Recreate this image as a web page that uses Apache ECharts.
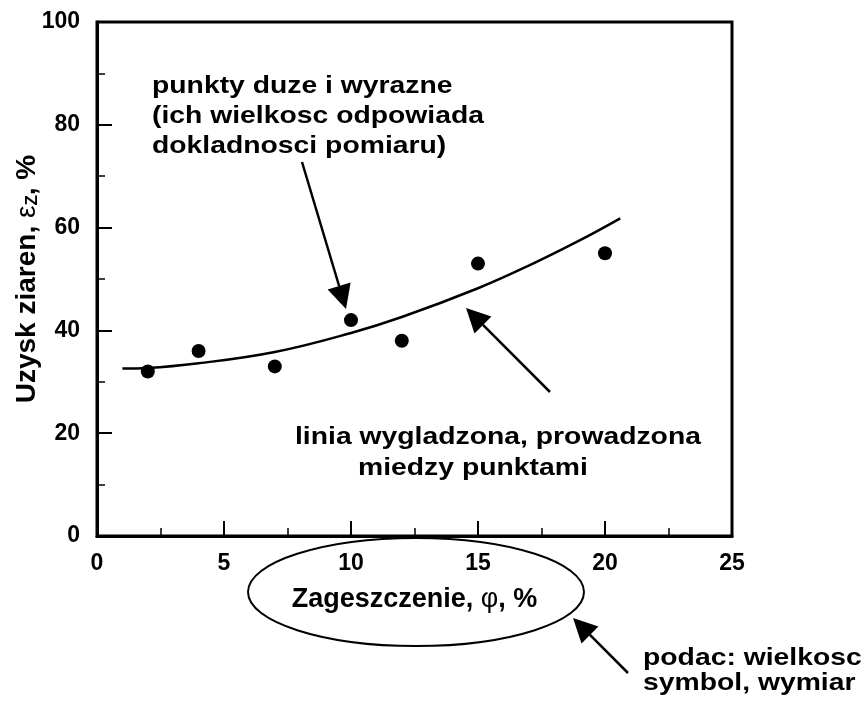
<!DOCTYPE html>
<html>
<head>
<meta charset="utf-8">
<script src="https://cdn.jsdelivr.net/npm/echarts@6/dist/echarts.min.js"></script>
<style>
  html, body { margin: 0; padding: 0; background: #fff; }
  #chart { width: 867px; height: 704px; }
</style>
</head>
<body>
<div id="chart"></div>
<script>
// punkty pomiarowe
const pointX = [2, 4, 7, 10, 12, 15, 20];
const pointY = [32, 36, 33, 42, 38, 53, 55];
// linia wygladzona
const curveX = [1, 2, 4, 7, 10, 12, 15, 17, 19, 20.6];
const curveY = [32.6, 32.7, 33.6, 35.8, 39.5, 42.6, 48.2, 52.6, 57.5, 61.8];
// osie
const xTicks = [0, 5, 10, 15, 20, 25];
const yTicks = [0, 20, 40, 60, 80, 100];

const FONT = '"Liberation Sans", Arial, sans-serif';

function arrow(x1, y1, x2, y2) {
  const dx = x2 - x1, dy = y2 - y1, L = Math.hypot(dx, dy);
  const ux = dx / L, uy = dy / L, hl = 24, hw = 12;
  const bx = x2 - ux * hl, by = y2 - uy * hl;
  return [
    { type: 'line', shape: { x1: x1, y1: y1, x2: bx, y2: by }, style: { stroke: '#000', lineWidth: 2.5 } },
    { type: 'polygon', shape: { points: [[x2, y2], [bx - uy * hw, by + ux * hw], [bx + uy * hw, by - ux * hw]] }, style: { fill: '#000' } }
  ];
}

function label(txt, x, y) {
  return {
    type: 'text', x: x, y: y, scaleX: 1.18,
    style: { text: txt, fill: '#000', fontSize: 24, fontWeight: 'bold', fontFamily: FONT, align: 'left', verticalAlign: 'middle' }
  };
}

const chart = echarts.init(document.getElementById('chart'));

const option = {
  animation: false,
  backgroundColor: '#fff',
  grid: {
    left: 97, right: 135, top: 22, bottom: 168,
    containLabel: false, outerBoundsMode: 'none',
    show: true, borderColor: '#000', borderWidth: 3, backgroundColor: 'transparent'
  },
  xAxis: {
    type: 'value',
    min: xTicks[0], max: xTicks[xTicks.length - 1], interval: xTicks[1] - xTicks[0],
    name: 'Zageszczenie, {g|φ}, %',
    nameLocation: 'middle',
    nameGap: 50,
    nameMoveOverlap: false,
    nameTextStyle: {
      color: '#000', fontSize: 27, fontWeight: 'bold', fontFamily: FONT,
      rich: { g: { color: '#000', fontSize: 27, fontWeight: 'normal', fontFamily: FONT } }
    },
    axisLine: { show: true, lineStyle: { color: '#000', width: 3 } },
    axisTick: { show: true, inside: true, length: 15, lineStyle: { color: '#000', width: 2 } },
    minorTick: { show: true, splitNumber: 2, length: 8, lineStyle: { color: '#000', width: 1.5 } },
    splitLine: { show: false },
    axisLabel: { color: '#000', fontSize: 23, fontWeight: 'bold', fontFamily: FONT, margin: 16 }
  },
  yAxis: {
    type: 'value',
    min: yTicks[0], max: yTicks[yTicks.length - 1], interval: yTicks[1] - yTicks[0],
    name: '{b|Uzysk ziaren, }{g|ε}{s|Z}{b|, %}',
    nameLocation: 'middle',
    nameRotate: 90,
    nameGap: 56,
    nameMoveOverlap: false,
    nameTextStyle: {
      color: '#000', fontSize: 28, fontWeight: 'bold', fontFamily: FONT,
      rich: {
        b: { color: '#000', fontSize: 28, fontWeight: 'bold', fontFamily: FONT },
        g: { color: '#000', fontSize: 28, fontWeight: 'normal', fontFamily: FONT },
        s: { color: '#000', fontSize: 17, fontWeight: 'bold', fontFamily: FONT, verticalAlign: 'bottom' }
      }
    },
    axisLine: { show: true, lineStyle: { color: '#000', width: 3 } },
    axisTick: { show: true, inside: true, length: 15, lineStyle: { color: '#000', width: 2 } },
    minorTick: { show: true, splitNumber: 2, length: 8, lineStyle: { color: '#000', width: 1.5 } },
    splitLine: { show: false },
    axisLabel: { color: '#000', fontSize: 23, fontWeight: 'bold', fontFamily: FONT, margin: 17 }
  },
  series: [
    {
      name: 'linia',
      type: 'line',
      data: curveX.map((x, i) => [x, curveY[i]]),
      smooth: 0.4,
      showSymbol: false,
      lineStyle: { color: '#000', width: 2.5 },
      z: 2
    },
    {
      name: 'punkty',
      type: 'scatter',
      data: pointX.map((x, i) => [x, pointY[i]]),
      symbol: 'circle',
      symbolSize: 14,
      itemStyle: { color: '#000', opacity: 1 },
      z: 3
    }
  ],
  graphic: [
    label('punkty duze i wyrazne', 152, 86),
    label('(ich wielkosc odpowiada', 152, 116),
    label('dokladnosci pomiaru)', 152, 146),
    label('linia wygladzona, prowadzona', 295, 437),
    label('miedzy punktami', 358, 468),
    label('podac: wielkosc', 643, 658),
    label('symbol, wymiar', 643, 683),
    { type: 'ellipse', shape: { cx: 416, cy: 592, rx: 168, ry: 54 }, style: { fill: 'none', stroke: '#000', lineWidth: 2 } }
  ].concat(arrow(302, 162, 346, 309), arrow(550, 392, 466, 308), arrow(628, 673, 573, 618))
};

chart.setOption(option);
</script>
</body>
</html>
